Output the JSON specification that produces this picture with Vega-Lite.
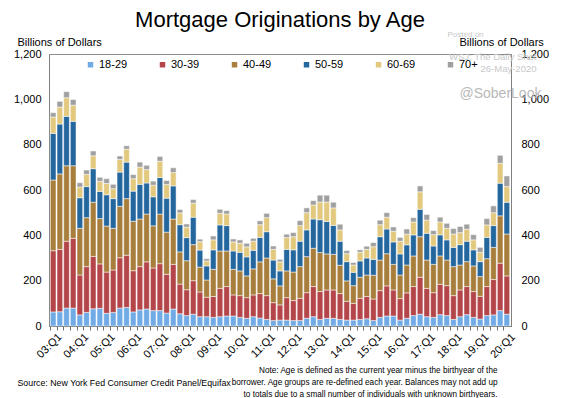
{
  "$schema": "https://vega.github.io/schema/vega-lite/v6.json",
  "width": 462,
  "height": 272,
  "autosize": {"type": "none"},
  "padding": {"left": 49, "top": 54, "right": 53, "bottom": 72},
  "background": "white",
  "config": {
    "font": "Liberation Sans",
    "view": {"stroke": "#8c8c8c", "strokeWidth": 1},
    "axis": {"grid": false, "labelFont": "Liberation Sans", "titleFont": "Liberation Sans", "labelColor": "black", "titleColor": "black", "titleFontWeight": "normal"},
    "legend": {"labelFont": "Liberation Sans"}
  },
  "title": {"text": "Mortgage Originations by Age", "fontSize": 22, "fontWeight": "normal", "color": "black", "anchor": "middle", "frame": "group", "offset": 2, "dy": 4},
  "data": {"values": [
    {"q": "03:Q1", "18-29": 62, "30-39": 270, "40-49": 312, "50-59": 206, "60-69": 72, "70+": 19},
    {"q": "03:Q2", "18-29": 63, "30-39": 275, "40-49": 333, "50-59": 220, "60-69": 75, "70+": 25},
    {"q": "03:Q3", "18-29": 79, "30-39": 295, "40-49": 333, "50-59": 218, "60-69": 82, "70+": 27},
    {"q": "03:Q4", "18-29": 79, "30-39": 308, "40-49": 320, "50-59": 196, "60-69": 71, "70+": 25},
    {"q": "04:Q1", "18-29": 49, "30-39": 176, "40-49": 206, "50-59": 135, "60-69": 47, "70+": 19},
    {"q": "04:Q2", "18-29": 60, "30-39": 202, "40-49": 216, "50-59": 137, "60-69": 54, "70+": 19},
    {"q": "04:Q3", "18-29": 76, "30-39": 231, "40-49": 239, "50-59": 148, "60-69": 57, "70+": 21},
    {"q": "04:Q4", "18-29": 78, "30-39": 196, "40-49": 200, "50-59": 120, "60-69": 44, "70+": 18},
    {"q": "05:Q1", "18-29": 56, "30-39": 182, "40-49": 203, "50-59": 138, "60-69": 50, "70+": 21},
    {"q": "05:Q2", "18-29": 60, "30-39": 187, "40-49": 184, "50-59": 131, "60-69": 44, "70+": 19},
    {"q": "05:Q3", "18-29": 79, "30-39": 222, "40-49": 227, "50-59": 151, "60-69": 56, "70+": 15},
    {"q": "05:Q4", "18-29": 82, "30-39": 230, "40-49": 250, "50-59": 161, "60-69": 57, "70+": 15},
    {"q": "06:Q1", "18-29": 62, "30-39": 182, "40-49": 218, "50-59": 133, "60-69": 55, "70+": 18},
    {"q": "06:Q2", "18-29": 71, "30-39": 191, "40-49": 210, "50-59": 153, "60-69": 76, "70+": 22},
    {"q": "06:Q3", "18-29": 75, "30-39": 208, "40-49": 211, "50-59": 137, "60-69": 59, "70+": 19},
    {"q": "06:Q4", "18-29": 68, "30-39": 188, "40-49": 186, "50-59": 128, "60-69": 51, "70+": 18},
    {"q": "07:Q1", "18-29": 68, "30-39": 207, "40-49": 219, "50-59": 161, "60-69": 72, "70+": 21},
    {"q": "07:Q2", "18-29": 57, "30-39": 171, "40-49": 186, "50-59": 150, "60-69": 60, "70+": 18},
    {"q": "07:Q3", "18-29": 75, "30-39": 197, "40-49": 200, "50-59": 146, "60-69": 59, "70+": 21},
    {"q": "07:Q4", "18-29": 54, "30-39": 131, "40-49": 142, "50-59": 120, "60-69": 52, "70+": 15},
    {"q": "08:Q1", "18-29": 46, "30-39": 114, "40-49": 128, "50-59": 102, "60-69": 46, "70+": 14},
    {"q": "08:Q2", "18-29": 52, "30-39": 148, "40-49": 159, "50-59": 121, "60-69": 62, "70+": 16},
    {"q": "08:Q3", "18-29": 41, "30-39": 109, "40-49": 110, "50-59": 75, "60-69": 37, "70+": 11},
    {"q": "08:Q4", "18-29": 41, "30-39": 86, "40-49": 76, "50-59": 62, "60-69": 22, "70+": 10},
    {"q": "09:Q1", "18-29": 38, "30-39": 92, "40-49": 120, "50-59": 86, "60-69": 44, "70+": 17},
    {"q": "09:Q2", "18-29": 41, "30-39": 125, "40-49": 165, "50-59": 115, "60-69": 51, "70+": 18},
    {"q": "09:Q3", "18-29": 44, "30-39": 130, "40-49": 157, "50-59": 112, "60-69": 51, "70+": 15},
    {"q": "09:Q4", "18-29": 44, "30-39": 93, "40-49": 113, "50-59": 81, "60-69": 40, "70+": 13},
    {"q": "10:Q1", "18-29": 38, "30-39": 96, "40-49": 109, "50-59": 82, "60-69": 40, "70+": 15},
    {"q": "10:Q2", "18-29": 34, "30-39": 91, "40-49": 96, "50-59": 84, "60-69": 44, "70+": 16},
    {"q": "10:Q3", "18-29": 41, "30-39": 96, "40-49": 115, "50-59": 82, "60-69": 40, "70+": 13},
    {"q": "10:Q4", "18-29": 35, "30-39": 108, "40-49": 140, "50-59": 108, "60-69": 56, "70+": 17},
    {"q": "11:Q1", "18-29": 29, "30-39": 105, "40-49": 166, "50-59": 116, "60-69": 62, "70+": 19},
    {"q": "11:Q2", "18-29": 24, "30-39": 79, "40-49": 105, "50-59": 83, "60-69": 47, "70+": 15},
    {"q": "11:Q3", "18-29": 26, "30-39": 67, "40-49": 84, "50-59": 66, "60-69": 40, "70+": 11},
    {"q": "11:Q4", "18-29": 26, "30-39": 99, "40-49": 118, "50-59": 95, "60-69": 52, "70+": 15},
    {"q": "12:Q1", "18-29": 24, "30-39": 88, "40-49": 126, "50-59": 98, "60-69": 58, "70+": 18},
    {"q": "12:Q2", "18-29": 24, "30-39": 98, "40-49": 140, "50-59": 112, "60-69": 69, "70+": 22},
    {"q": "12:Q3", "18-29": 34, "30-39": 113, "40-49": 159, "50-59": 118, "60-69": 76, "70+": 21},
    {"q": "12:Q4", "18-29": 41, "30-39": 133, "40-49": 169, "50-59": 129, "60-69": 62, "70+": 19},
    {"q": "13:Q1", "18-29": 29, "30-39": 123, "40-49": 172, "50-59": 145, "60-69": 78, "70+": 30},
    {"q": "13:Q2", "18-29": 34, "30-39": 125, "40-49": 159, "50-59": 143, "60-69": 86, "70+": 30},
    {"q": "13:Q3", "18-29": 34, "30-39": 125, "40-49": 157, "50-59": 128, "60-69": 77, "70+": 25},
    {"q": "13:Q4", "18-29": 29, "30-39": 114, "40-49": 125, "50-59": 106, "60-69": 50, "70+": 25},
    {"q": "14:Q1", "18-29": 26, "30-39": 83, "40-49": 90, "50-59": 85, "60-69": 35, "70+": 14},
    {"q": "14:Q2", "18-29": 26, "30-39": 74, "40-49": 78, "50-59": 59, "60-69": 32, "70+": 11},
    {"q": "14:Q3", "18-29": 29, "30-39": 93, "40-49": 93, "50-59": 72, "60-69": 38, "70+": 11},
    {"q": "14:Q4", "18-29": 32, "30-39": 98, "40-49": 95, "50-59": 75, "60-69": 38, "70+": 14},
    {"q": "15:Q1", "18-29": 24, "30-39": 95, "40-49": 105, "50-59": 70, "60-69": 56, "70+": 18},
    {"q": "15:Q2", "18-29": 38, "30-39": 118, "40-49": 135, "50-59": 103, "60-69": 53, "70+": 20},
    {"q": "15:Q3", "18-29": 44, "30-39": 133, "40-49": 142, "50-59": 109, "60-69": 52, "70+": 20},
    {"q": "15:Q4", "18-29": 44, "30-39": 115, "40-49": 113, "50-59": 99, "60-69": 47, "70+": 19},
    {"q": "16:Q1", "18-29": 26, "30-39": 95, "40-49": 104, "50-59": 93, "60-69": 56, "70+": 17},
    {"q": "16:Q2", "18-29": 34, "30-39": 112, "40-49": 123, "50-59": 89, "60-69": 47, "70+": 23},
    {"q": "16:Q3", "18-29": 46, "30-39": 128, "40-49": 135, "50-59": 93, "60-69": 57, "70+": 19},
    {"q": "16:Q4", "18-29": 52, "30-39": 163, "40-49": 179, "50-59": 121, "60-69": 77, "70+": 26},
    {"q": "17:Q1", "18-29": 41, "30-39": 125, "40-49": 125, "50-59": 118, "60-69": 58, "70+": 25},
    {"q": "17:Q2", "18-29": 38, "30-39": 109, "40-49": 125, "50-59": 81, "60-69": 50, "70+": 18},
    {"q": "17:Q3", "18-29": 50, "30-39": 134, "40-49": 125, "50-59": 93, "60-69": 57, "70+": 21},
    {"q": "17:Q4", "18-29": 46, "30-39": 132, "40-49": 113, "50-59": 89, "60-69": 51, "70+": 22},
    {"q": "18:Q1", "18-29": 29, "30-39": 105, "40-49": 128, "50-59": 85, "60-69": 59, "70+": 24},
    {"q": "18:Q2", "18-29": 41, "30-39": 118, "40-49": 110, "50-59": 90, "60-69": 53, "70+": 27},
    {"q": "18:Q3", "18-29": 50, "30-39": 124, "40-49": 110, "50-59": 90, "60-69": 53, "70+": 22},
    {"q": "18:Q4", "18-29": 38, "30-39": 114, "40-49": 113, "50-59": 71, "60-69": 44, "70+": 23},
    {"q": "19:Q1", "18-29": 31, "30-39": 100, "40-49": 87, "50-59": 66, "60-69": 41, "70+": 22},
    {"q": "19:Q2", "18-29": 46, "30-39": 128, "40-49": 123, "50-59": 94, "60-69": 55, "70+": 28},
    {"q": "19:Q3", "18-29": 49, "30-39": 156, "40-49": 142, "50-59": 96, "60-69": 57, "70+": 30},
    {"q": "19:Q4", "18-29": 68, "30-39": 209, "40-49": 209, "50-59": 144, "60-69": 88, "70+": 35},
    {"q": "20:Q1", "18-29": 52, "30-39": 169, "40-49": 185, "50-59": 140, "60-69": 69, "70+": 47}
  ]},
  "transform": [{"fold": ["18-29", "30-39", "40-49", "50-59", "60-69", "70+"], "as": ["group", "value"]}],
  "encoding": {
    "x": {
      "field": "q", "type": "nominal", "sort": null,
      "scale": {"paddingInner": 0.15, "paddingOuter": 0.2},
      "axis": {
        "title": null,
        "labelExpr": "indexof(datum.value, 'Q1') >= 0 ? datum.value : ''",
        "labelAngle": -45, "labelAlign": "right", "labelBaseline": "middle", "labelFontSize": 11,
        "labelOverlap": false, "labelPadding": 5, "labelOffset": 7, "bandPosition": 0,
        "tickSize": 4, "tickColor": "#6e6e6e", "domainColor": "#6e6e6e"
      }
    }
  },
  "layer": [
    {
      "mark": {"type": "bar", "stroke": "white", "strokeWidth": 0.5},
      "encoding": {
        "y": {
          "field": "value", "type": "quantitative", "stack": "zero",
          "scale": {"domain": [0, 1200], "nice": false},
          "axis": {
            "orient": "left", "values": [0, 200, 400, 600, 800, 1000, 1200], "format": ",.0f",
            "title": "Billions of Dollars", "titleAngle": 0, "titleX": -32, "titleY": -12, "titleAlign": "left", "titleBaseline": "middle", "titleFontSize": 11,
            "labelFontSize": 11, "tickSize": 0, "labelPadding": 8, "tickColor": "#808080", "domainColor": "#808080"
          }
        },
        "color": {
          "field": "group", "type": "nominal",
          "scale": {"domain": ["18-29", "30-39", "40-49", "50-59", "60-69", "70+"], "range": ["#70abe6", "#b4464a", "#a87e3c", "#24679f", "#e2c97e", "#a0a0a0"]},
          "legend": {"orient": "none", "legendX": 36, "legendY": 5, "direction": "horizontal", "title": null, "symbolType": "square", "symbolSize": 30, "symbolStrokeWidth": 0, "labelFontSize": 11, "labelOffset": 3, "columnPadding": 29, "padding": 0, "labelColor": "black"}
        },
        "order": {"sort": "ascending"}
      }
    },
    {
      "transform": [{"filter": "datum.group == '70+'"}],
      "mark": {"type": "bar", "opacity": 0},
      "encoding": {
        "y": {
          "field": "value", "type": "quantitative",
          "scale": {"domain": [0, 1200], "nice": false},
          "axis": {
            "orient": "right", "values": [0, 200, 400, 600, 800, 1000, 1200], "format": ",.0f",
            "title": "Billions of Dollars", "titleAngle": 0, "titleX": -52, "titleY": -12, "titleAlign": "left", "titleBaseline": "middle", "titleFontSize": 11,
            "labelFontSize": 11, "tickSize": 0, "labelPadding": 10, "tickColor": "#808080", "domainColor": "#808080"
          }
        }
      }
    },
    {
      "transform": [{"filter": "datum.group == '70+'"}],
      "mark": {"type": "bar", "opacity": 0},
      "encoding": {
        "y": {
          "field": "value", "type": "quantitative",
          "scale": {"domain": [0, 1200], "nice": false},
          "axis": {
            "orient": "left", "labels": false, "ticks": false, "domain": false,
            "title": "Source: New York Fed Consumer Credit Panel/Equifax", "titleAngle": 0, "titleX": -32, "titleY": 331, "titleAlign": "left", "titleBaseline": "alphabetic", "titleFontSize": 8.8
          }
        }
      }
    },
    {
      "transform": [{"filter": "datum.group == '70+'"}],
      "mark": {"type": "bar", "opacity": 0},
      "encoding": {
        "y": {
          "field": "value", "type": "quantitative",
          "scale": {"domain": [0, 1200], "nice": false},
          "axis": {
            "orient": "right", "labels": false, "ticks": false, "domain": false,
            "title": ["Note: Age is defined as the current year minus the birthyear of the", "borrower. Age groups are re-defined each year. Balances may not add up", "to totals due to a small number of individuals with unknown birthyears."],
            "titleAngle": 0, "titleX": -14, "titleY": 318, "titleAlign": "right", "titleBaseline": "alphabetic", "titleFontSize": 8.2, "titleLineHeight": 12
          }
        }
      }
    },
    {
      "transform": [{"filter": "datum.group == '70+'"}],
      "mark": {"type": "bar", "opacity": 0},
      "encoding": {
        "y": {
          "field": "value", "type": "quantitative",
          "scale": {"domain": [0, 1200], "nice": false},
          "axis": {
            "orient": "right", "labels": false, "ticks": false, "domain": false,
            "title": "@SoberLook", "titleAngle": 0, "titleX": -52, "titleY": 43, "titleAlign": "left", "titleBaseline": "alphabetic", "titleFontSize": 14, "titleColor": "#b8b8b8"
          }
        }
      }
    },
    {
      "transform": [{"filter": "datum.group == '70+'"}],
      "mark": {"type": "bar", "opacity": 0},
      "encoding": {
        "y": {
          "field": "value", "type": "quantitative",
          "scale": {"domain": [0, 1200], "nice": false},
          "axis": {
            "orient": "right", "labels": false, "ticks": false, "domain": false,
            "title": "Posted on", "titleAngle": 0, "titleX": -64, "titleY": -18, "titleAlign": "left", "titleBaseline": "alphabetic", "titleFontSize": 8, "titleColor": "#c8c8c8"
          }
        }
      }
    },
    {
      "transform": [{"filter": "datum.group == '70+'"}],
      "mark": {"type": "bar", "opacity": 0},
      "encoding": {
        "y": {
          "field": "value", "type": "quantitative",
          "scale": {"domain": [0, 1200], "nice": false},
          "axis": {
            "orient": "right", "labels": false, "ticks": false, "domain": false,
            "title": ["WSJ: The Daily Shot", "26-May-2020"], "titleAngle": 0, "titleX": 25, "titleY": 5, "titleAlign": "right", "titleBaseline": "alphabetic", "titleFontSize": 9.5, "titleColor": "#c8c8c8", "titleLineHeight": 12
          }
        }
      }
    }
  ],
  "resolve": {"scale": {"y": "independent"}, "axis": {"y": "independent"}}
}
